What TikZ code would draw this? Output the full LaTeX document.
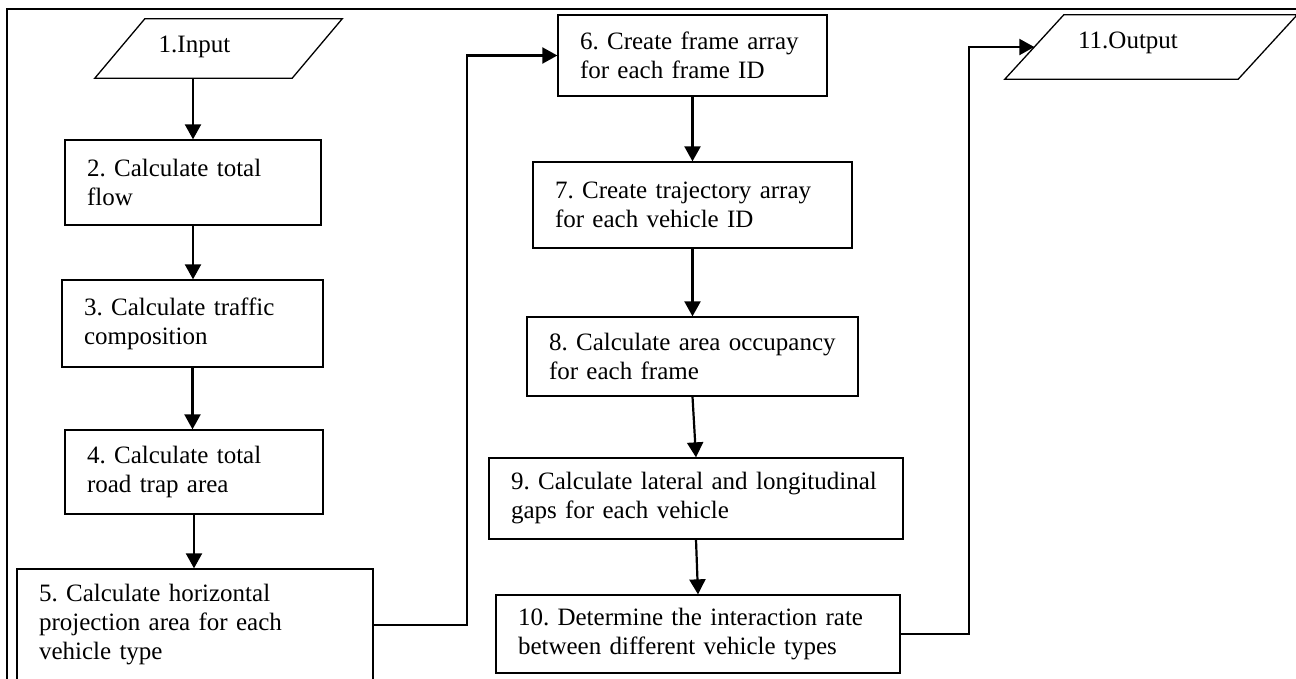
\documentclass[tikz,border=0pt]{standalone}
\usepackage{fontspec}
\setmainfont{Liberation Serif}
\usetikzlibrary{arrows.meta,calc}
\frenchspacing
\begin{document}
\begin{tikzpicture}[x=1pt,y=-1pt,
  every node/.style={font=\fontsize{25}{29}\selectfont},
  stepbox/.style={draw, line width=1.3pt, inner xsep=22pt, inner ysep=0pt, align=left},
  shapebox/.style={draw=none, inner sep=0pt},
  txt/.style={inner sep=0pt},
  arr/.style={line width=2.2pt, -{Triangle[length=15pt,width=16pt]}}]
\useasboundingbox (0,0) rectangle (1296,678);
\clip (0,0) rectangle (1296,678);
% outer frame
\draw[line width=1.3pt] (7,9) rectangle (1320,700);
% input
\node[shapebox, minimum width=247pt, minimum height=59pt] (inbox) at (218.5,48.5) {};
\draw[line width=1.3pt] ([xshift=50pt]inbox.north west) -- (inbox.north east) -- ([xshift=-50pt]inbox.south east) -- (inbox.south west) -- cycle;
\node[txt] (inT) at (194.5,47) {1.Input};
% left column
\node[stepbox, text width=212pt, minimum height=85pt] (b2) at (193,182.5) {\mbox{2. Calculate total}\\\mbox{flow}};
\node[stepbox, text width=217pt, minimum height=87pt] (b3) at (192.5,323.5) {\mbox{3. Calculate traffic}\\\mbox{composition}};
\node[stepbox, text width=214pt, minimum height=84pt] (b4) at (194,472) {\mbox{4. Calculate total}\\\mbox{road trap area}};
\node[stepbox, text width=312pt, minimum height=112pt] (b5) at (195,625) {\mbox{5. Calculate horizontal}\\\mbox{projection area for each}\\\mbox{vehicle type}};
% middle column
\node[stepbox, text width=225pt, minimum height=81pt] (b6) at (692.5,55.5) {\mbox{6. Create frame array}\\\mbox{for each frame ID}};
\node[stepbox, text width=275pt, minimum height=86pt] (b7) at (692.5,205) {\mbox{7. Create trajectory array}\\\mbox{for each vehicle ID}};
\node[stepbox, text width=287pt, minimum height=79pt] (b8) at (692.5,356.5) {\mbox{8. Calculate area occupancy}\\\mbox{for each frame}};
\node[stepbox, text width=370pt, minimum height=81pt] (b9) at (696,498.5) {\mbox{9. Calculate lateral and longitudinal}\\\mbox{gaps for each vehicle}};
\node[stepbox, text width=360pt, minimum height=78pt] (b10) at (698,634) {\mbox{10. Determine the interaction rate}\\\mbox{between different vehicle types}};
% output
\node[shapebox, minimum width=292pt, minimum height=64pt] (outbox) at (1151,47) {};
\draw[line width=1.3pt] ([xshift=59pt]outbox.north west) -- (outbox.north east) -- ([xshift=-59pt]outbox.south east) -- (outbox.south west) -- cycle;
\node[txt] (outT) at (1128,43) {11.Output};
\coordinate (outL) at ($([xshift=59pt]outbox.north west)!0.5!(outbox.south west)$);
% connectors
\draw[arr] (b2.north |- inbox.south) -- (b2.north);
\draw[arr] (b2.south) -- (b2.south |- b3.north);
\draw[arr] (b3.south) -- (b3.south |- b4.north);
\draw[arr] (b4.south) -- (b4.south |- b5.north);
\draw[arr] (b5.east) -- ++(93,0) |- (b6.west);
\draw[arr] (b6.south) -- (b7.north);
\draw[arr] (b7.south) -- (b8.north);
\draw[arr] (b8.south) -- (b9.north);
\draw[arr] (b9.south) -- (b10.north);
\draw[arr] (b10.east) -- ++(68,0) |- (outL);
\end{tikzpicture}
\end{document}
